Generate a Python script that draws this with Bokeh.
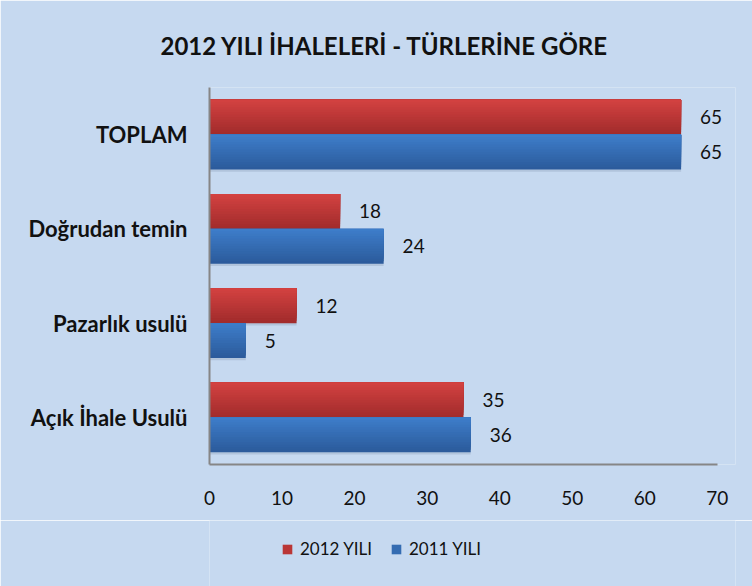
from bokeh.plotting import figure
from bokeh.models import (ColumnDataSource, FactorRange, Range1d, Legend, LegendItem,
                          FixedTicker, LabelSet)
from bokeh.layouts import column
from bokeh.core.properties import value
from bokeh.transform import dodge
from bokeh.embed import file_html
from bokeh.resources import INLINE

# ---- data ----
categories = ["Açık İhale Usulü", "Pazarlık usulü", "Doğrudan temin", "TOPLAM"]
series_names = ["2012 YILI", "2011 YILI"]
values_2012 = [35, 12, 18, 65]
values_2011 = [36, 5, 24, 65]
x_ticks = [0, 10, 20, 30, 40, 50, 60, 70]
title_text = "2012 YILI İHALELERİ - TÜRLERİNE GÖRE"

FONT = "Lato"
BG = "#c6d9f0"
X_MAX = 70

src = ColumnDataSource(dict(cat=categories, v2012=values_2012, v2011=values_2011,
                            l2012=[str(v) for v in values_2012],
                            l2011=[str(v) for v in values_2011]))

# frame is a bit wider than the axis (0..70) so the value labels beyond 70 stay visible
p = figure(y_range=FactorRange(*categories, range_padding=0, factor_padding=0),
           x_range=Range1d(0, 72.5),
           frame_width=526, frame_height=377,
           min_border_left=209, min_border_right=17, min_border_top=87, min_border_bottom=56,
           output_backend="svg", toolbar_location=None,
           background_fill_color=BG, border_fill_color=BG)
p.outline_line_color = None

p.title.text = title_text
p.title.align = "left"
p.title.offset = -49
p.title.text_font = FONT
p.title.text_font_size = "24px"
p.title.text_font_style = "bold"
p.title.text_color = "#111111"
p.title.standoff = 56

bar_h = 0.37
n = 14

def lerp(c1, c2, t):
    return "#%02x%02x%02x" % tuple(int(round(a + (b - a) * t)) for a, b in zip(c1, c2))

specs = [("v2012", "l2012", +bar_h / 2, (0xd4, 0x42, 0x41), (0xa0, 0x2b, 0x2b)),
         ("v2011", "l2011", -bar_h / 2, (0x3e, 0x7e, 0xcb), (0x2b, 0x5a, 0x9a))]
mid_colors = []
for col, lab, off, ctop, cbot in specs:
    # subtle shadow
    p.hbar(y=dodge("cat", off - 0.025, range=p.y_range), right=col, left=0, height=bar_h,
           source=src, fill_color="#8094ae", fill_alpha=0.3, line_color=None)
    # layered bars anchored at the top edge: darkest full bar first, lighter ones shorter
    for k in range(n):
        frac = 1 - k / n
        h = bar_h * frac
        o = off + bar_h / 2 - h / 2
        c = lerp(ctop, cbot, frac - 1 / n / 2)
        p.hbar(y=dodge("cat", o, range=p.y_range), right=col, left=0,
               height=h, source=src, fill_color=c, line_color=None)
    mid_colors.append(lerp(ctop, cbot, 0.5))
    p.add_layout(LabelSet(x=col, y=dodge("cat", off, range=p.y_range), text=lab, source=src,
                          x_offset=19, text_align="left", text_baseline="middle",
                          text_font=value(FONT), text_font_size="19px", text_color="#111111"))

p.xgrid.visible = False
p.ygrid.visible = False
p.xaxis.ticker = FixedTicker(ticks=x_ticks)
p.xaxis.bounds = (0, X_MAX)
for ax in (p.xaxis[0], p.yaxis[0]):
    ax.axis_line_color = "#868686"
    ax.axis_line_width = 2
    ax.major_tick_line_color = None
    ax.minor_tick_line_color = None
    ax.major_label_text_font = FONT
    ax.major_label_text_color = "#111111"
p.xaxis.major_label_text_font_size = "19px"
p.xaxis.major_label_standoff = 20
p.yaxis.major_label_text_font_size = "22px"
p.yaxis.major_label_text_font_style = "bold"
p.yaxis.major_label_standoff = 16

# ---- legend strip below the chart ----
p2 = figure(width=752, height=66, x_range=Range1d(-1001, -1000),
            y_range=FactorRange(*categories),
            min_border=0, output_backend="svg", toolbar_location=None,
            x_axis_location=None, y_axis_location=None,
            background_fill_color=BG, border_fill_color=BG)
p2.outline_line_color = None
p2.xgrid.visible = False
p2.ygrid.visible = False
leg_rs = []
for (col, *_), mc in zip(specs, mid_colors):
    leg_rs.append(p2.hbar(y="cat", right=col, left=0, height=0.0001, source=src,
                          fill_color=mc, line_color=None))
legend = Legend(items=[LegendItem(label=series_names[i], renderers=[leg_rs[i]]) for i in range(2)],
                orientation="horizontal", location=(72, 27),
                background_fill_alpha=0, border_line_color=None,
                label_text_font=FONT, label_text_font_size="17px", label_text_color="#111111",
                glyph_width=12, glyph_height=12, label_standoff=7, spacing=18,
                padding=0, margin=0)
p2.add_layout(legend)

layout = column(p, p2, spacing=0)
open("out.html", "w").write(file_html(layout, INLINE))
